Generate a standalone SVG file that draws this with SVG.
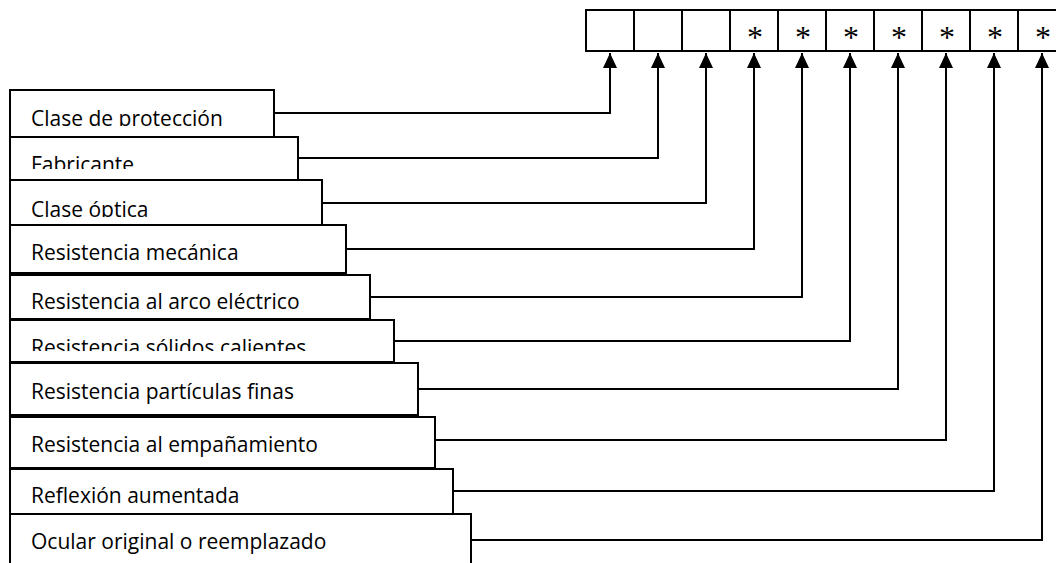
<svg xmlns="http://www.w3.org/2000/svg" width="1056" height="563" viewBox="0 0 1056 563">
<style>
.box{fill:#fff;stroke:#000;stroke-width:2}
.cell{fill:#fff;stroke:#000;stroke-width:2}
.lbl{font-family:"Open Sans","DejaVu Sans",sans-serif;font-size:21px;fill:#000}
.star{font-family:"Liberation Serif",serif;font-size:32px;fill:#000;text-anchor:middle}
.conn{fill:none;stroke:#000;stroke-width:2}
</style>
<defs>
<marker id="ah" viewBox="0 0 15 14" refX="15" refY="7" markerWidth="15" markerHeight="14" markerUnits="userSpaceOnUse" orient="auto">
<path d="M0,0 L15,7 L0,14 Z" fill="#000"/>
</marker>
<clipPath id="c1"><rect x="10" y="90" width="264" height="36"/></clipPath>
<clipPath id="c2"><rect x="10" y="137" width="288" height="32"/></clipPath>
<clipPath id="c3"><rect x="10" y="180" width="312" height="37"/></clipPath>
<clipPath id="c6"><rect x="10" y="320" width="384" height="31"/></clipPath>
</defs>
<g id="register">
<rect class="cell" x="586" y="10" width="48" height="41"/>
<rect class="cell" x="634" y="10" width="48" height="41"/>
<rect class="cell" x="682" y="10" width="48" height="41"/>
<rect class="cell" x="730" y="10" width="48" height="41"/>
<rect class="cell" x="778" y="10" width="48" height="41"/>
<rect class="cell" x="826" y="10" width="48" height="41"/>
<rect class="cell" x="874" y="10" width="48" height="41"/>
<rect class="cell" x="922" y="10" width="48" height="41"/>
<rect class="cell" x="970" y="10" width="48" height="41"/>
<rect class="cell" x="1018" y="10" width="48" height="41"/>
<text class="star" x="755" y="48">*</text>
<text class="star" x="803" y="48">*</text>
<text class="star" x="851" y="48">*</text>
<text class="star" x="899" y="48">*</text>
<text class="star" x="947" y="48">*</text>
<text class="star" x="995" y="48">*</text>
<text class="star" x="1043" y="48">*</text>
</g>
<g id="n1"><rect class="box" x="10" y="90" width="264" height="47"/><text class="lbl" x="31" y="126" clip-path="url(#c1)">Clase de protección</text></g>
<g id="n2"><rect class="box" x="10" y="137" width="288" height="43"/><text class="lbl" x="31" y="171.5" clip-path="url(#c2)">Fabricante</text></g>
<g id="n3"><rect class="box" x="10" y="180" width="312" height="45"/><text class="lbl" x="31" y="216.5" clip-path="url(#c3)">Clase óptica</text></g>
<g id="n4"><rect class="box" x="10" y="225" width="336" height="48"/><text class="lbl" x="31" y="260">Resistencia mecánica</text></g>
<g id="n5"><rect class="box" x="10" y="275" width="360" height="44"/><text class="lbl" x="31" y="309">Resistencia al arco eléctrico</text></g>
<g id="n6"><rect class="box" x="10" y="320" width="384" height="42"/><text class="lbl" x="31" y="355" clip-path="url(#c6)">Resistencia sólidos calientes</text></g>
<g id="n7"><rect class="box" x="10" y="363" width="408" height="52"/><text class="lbl" x="31" y="399">Resistencia partículas finas</text></g>
<g id="n8"><rect class="box" x="10" y="417" width="425" height="51"/><text class="lbl" x="31" y="452">Resistencia al empañamiento</text></g>
<g id="n9"><rect class="box" x="10" y="469" width="443" height="45"/><text class="lbl" x="31" y="503">Reflexión aumentada</text></g>
<g id="n10"><rect class="box" x="10" y="514" width="461" height="60"/><text class="lbl" x="31" y="549">Ocular original o reemplazado</text></g>
<g id="connectors">
<polyline class="conn" points="274,113 610,113 610,53" marker-end="url(#ah)"/>
<polyline class="conn" points="298,158 658,158 658,53" marker-end="url(#ah)"/>
<polyline class="conn" points="322,203 706,203 706,53" marker-end="url(#ah)"/>
<polyline class="conn" points="346,249 754,249 754,53" marker-end="url(#ah)"/>
<polyline class="conn" points="370,297 802,297 802,53" marker-end="url(#ah)"/>
<polyline class="conn" points="394,341 850,341 850,53" marker-end="url(#ah)"/>
<polyline class="conn" points="418,389 898,389 898,53" marker-end="url(#ah)"/>
<polyline class="conn" points="435,440 946,440 946,53" marker-end="url(#ah)"/>
<polyline class="conn" points="453,491 994,491 994,53" marker-end="url(#ah)"/>
<polyline class="conn" points="471,540 1042,540 1042,53" marker-end="url(#ah)"/>
</g>
</svg>
